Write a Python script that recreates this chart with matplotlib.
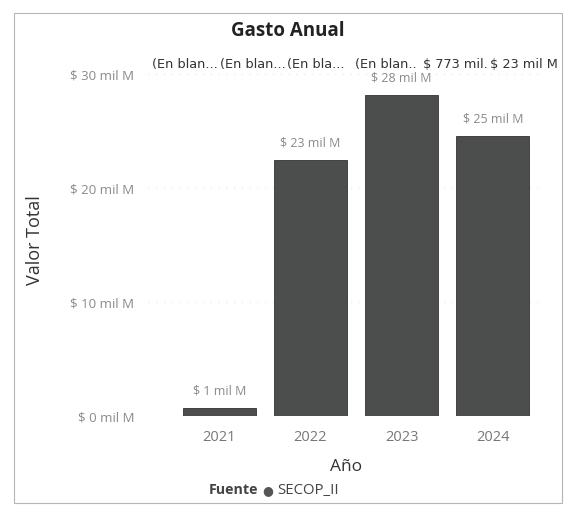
import matplotlib
matplotlib.use("Agg")
import matplotlib.pyplot as plt
from matplotlib.patches import Rectangle

plt.rcParams["font.family"] = ["Open Sans", "DejaVu Sans"]
plt.rcParams["text.parse_math"] = False

# data (mil millones de pesos)
years = ["2021", "2022", "2023", "2024"]
valores = [0.7, 22.5, 28.2, 24.6]
etiquetas = ["$ 1 mil M", "$ 23 mil M", "$ 28 mil M", "$ 25 mil M"]
y_ticks = [0, 10, 20, 30]
y_ticklabels = ["$ 0 mil M", "$ 10 mil M", "$ 20 mil M", "$ 30 mil M"]
# truncated labels of the other series, crowded along the top
top_labels = ["(En blan...", "(En blan...", "(En bla...", "(En blan..",
              "$ 773 mil.", "$ 23 mil M"]

bar_color = "#4b4e4d"
grey_txt = "#8a8a8a"

fig = plt.figure(figsize=(5.76, 5.08), dpi=100)
fig.patches.append(Rectangle((0.025, 0.01), 0.95, 0.965, transform=fig.transFigure,
                             fill=False, edgecolor="#b5b5b5", linewidth=0.8))

ax = fig.add_axes([0.257, 0.181, 0.689, 0.695])
x = range(len(years))
ax.bar(x, valores, width=0.8, color=bar_color, edgecolor="#333333", linewidth=0.6)

for i, (v, lab) in enumerate(zip(valores, etiquetas)):
    ax.text(i, v + 0.9, lab, ha="center", va="bottom", fontsize=9, color=grey_txt)

ax.set_xlim(-0.78, 3.57)
ax.set_ylim(0, 31)
ax.set_xticks(list(x))
ax.set_xticklabels(years, fontsize=10.5, color="#777777")
ax.set_yticks(y_ticks)
ax.set_yticklabels(y_ticklabels, fontsize=9.5, color=grey_txt)
ax.tick_params(length=0, pad=10)
ax.grid(axis="y", color="#e6e6e6", linestyle=(0, (1, 6)), linewidth=0.8)
ax.set_axisbelow(True)
for s in ax.spines.values():
    s.set_visible(False)

ax.set_xlabel("Año", fontsize=12.5, color="#333333", labelpad=10)
fig.text(0.061, 0.528, "Valor Total", rotation=90, ha="center", va="center",
         fontsize=13, color="#333333")

fig.text(0.50, 0.938, "Gasto Anual", ha="center", va="center", fontsize=13.5,
         fontweight="bold", color="#222222")

x0, step = 0.264, 0.1175
for k, lab in enumerate(top_labels):
    fig.text(x0 + k * step, 0.874, lab, ha="left", va="center", fontsize=9.3,
             color="#333333", family=["DejaVu Sans"])

# legend
fig.text(0.448, 0.035, "Fuente", ha="right", va="center", fontsize=10.3,
         fontweight="bold", color="#444444")
fig.text(0.455, 0.035, "\u25cf", ha="left", va="center", fontsize=9, color="#555555")
fig.text(0.481, 0.035, "SECOP_II", ha="left", va="center", fontsize=10.8, color="#444444")

fig.savefig("out.png", dpi=100)
